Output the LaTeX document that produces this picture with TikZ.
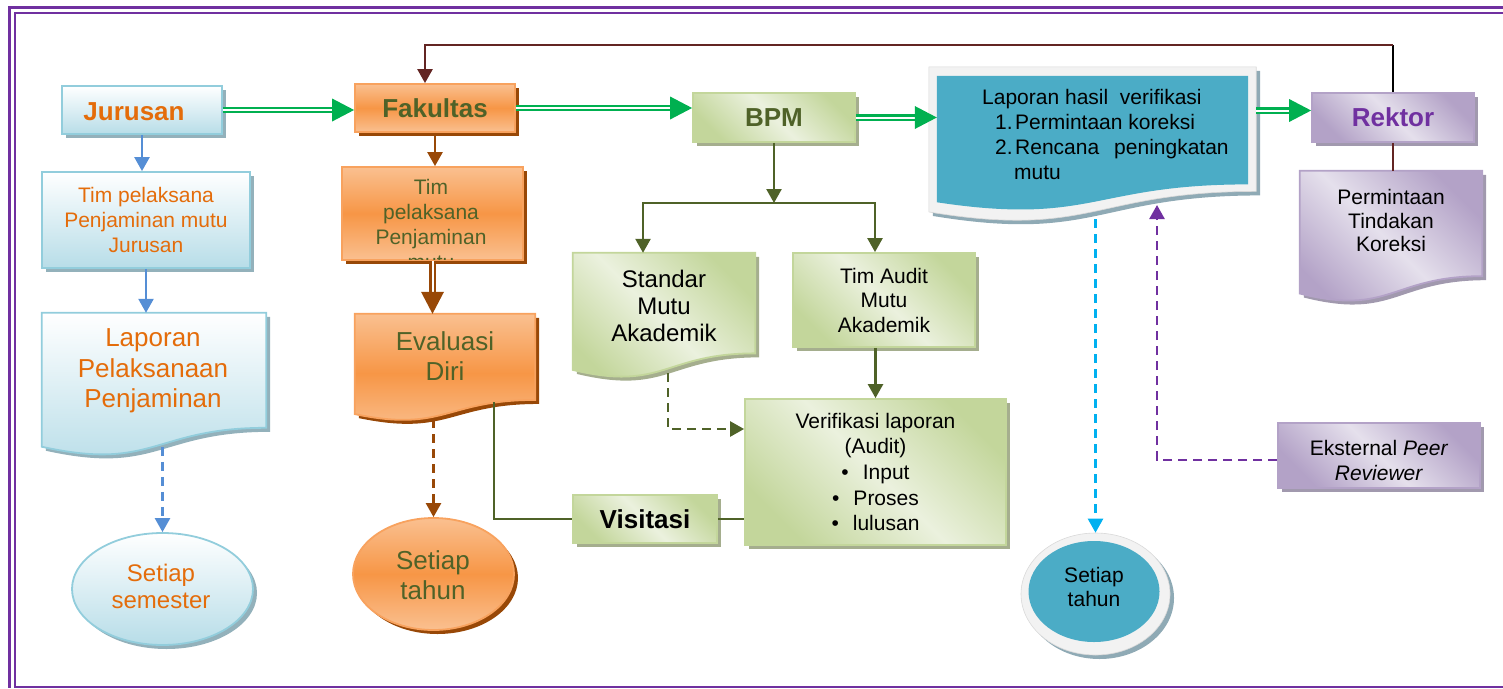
\documentclass[tikz,border=0pt]{standalone}
\usepackage{fontspec}
\setmainfont{Liberation Sans}
\usetikzlibrary{arrows.meta,calc,shadows,decorations.markings,shapes.geometric}
\definecolor{bB}{HTML}{92CDDC}
\definecolor{bL}{HTML}{B7DDE8}
\definecolor{bS}{HTML}{93B1BB}
\definecolor{oB}{HTML}{F8A25E}
\definecolor{oM}{HTML}{F79646}
\definecolor{oL}{HTML}{FAC090}
\definecolor{oS}{HTML}{984807}
\definecolor{gB}{HTML}{C3D69B}
\definecolor{gD}{HTML}{C3D69B}
\definecolor{gW}{HTML}{EBF1DE}
\definecolor{gS}{HTML}{A5AE8E}
\definecolor{pB}{HTML}{B3A2C7}
\definecolor{pD}{HTML}{B3A2C7}
\definecolor{pW}{HTML}{E5E0EC}
\definecolor{pS}{HTML}{A199AE}
\definecolor{tealF}{HTML}{4BACC6}
\definecolor{frameG}{HTML}{F2F2F2}
\definecolor{frameB}{HTML}{D9D9D9}
\definecolor{tS}{HTML}{8FAAB5}
\definecolor{gA}{HTML}{00B050}
\definecolor{brA}{HTML}{984807}
\definecolor{olA}{HTML}{4F6228}
\definecolor{bA}{HTML}{558ED5}
\definecolor{cA}{HTML}{00B0F0}
\definecolor{pA}{HTML}{7030A0}
\definecolor{dR}{HTML}{632523}
\definecolor{oT}{HTML}{E46C0A}
\definecolor{dG}{HTML}{4F6228}
\definecolor{fr}{HTML}{7030A0}
\newcommand\fsN{\fontsize{21pt}{25pt}\selectfont}
\newcommand\fsL{\fontsize{26pt}{30.5pt}\selectfont}
\newcommand\fsM{\fontsize{24pt}{27pt}\selectfont}
\newcommand\docpath[1]{(#1.north west) -- (#1.north east) -- ($(#1.north east)!0.802!(#1.south east)$) .. controls ($(#1.north)!0.802!(#1.south)$) and ($(#1.north)!1.1075!(#1.south)$) .. ($(#1.north west)!0.934!(#1.south west)$) -- cycle}
\begin{document}
\begin{tikzpicture}[x=1pt,y=-1pt,
  shd/.style={general shadow={fill=#1, shadow xshift=4pt, shadow yshift=-4pt}},
  box/.style={rectangle, inner sep=0pt, align=center, font=\fsN},
  holder/.style={rectangle, inner sep=0pt},
  txt/.style={inner sep=0pt, align=center, font=\fsN},
  bluefill/.style={draw=bB, line width=1.8pt, top color=white, bottom color=bL, shd=bS},
  orangefill/.style={draw=oB, line width=1.8pt, top color=oL, bottom color=oL, middle color=oM, shd=oS},
  greenfill/.style={draw=gB, line width=1.8pt, top color=gD, bottom color=gD, middle color=gW, shading angle=-45, shd=gS},
  purplefill/.style={draw=pB, line width=1.8pt, top color=pD, bottom color=pD, middle color=pW, shading angle=-45, shd=pS},
  arr/.style={draw=#1, line width=2.5pt, -{Triangle[length=14pt,width=15pt]}},
  plainline/.style={draw=#1, line width=2.5pt},
  dsh/.style={dash pattern=on 9pt off 6pt},
  dbl/.style={draw=#1, line width=2.1pt, double=white, double distance=2pt, shorten >=18pt,
    postaction={decorate, decoration={markings, mark=at position 1 with {\fill[#1] (0pt,0pt) -- (-22pt,11.5pt) -- (-22pt,-11.5pt) -- cycle;}}}}
]
\useasboundingbox (0,0) rectangle (1503,688);
% frame
\draw[fr, line width=3pt] (1503,7) -- (9,7) -- (9,688);
\draw[fr, line width=2.2pt] (1503,13) -- (15,13) -- (15,687) -- (1503,687);

% ---------- blue column
\node[box, bluefill, minimum width=160pt, minimum height=48pt] (jur) at (142,110) {};
\node[txt, font=\fsL\bfseries, text=oT] (jur-t) at (134,112) {Jurusan};
\node[box, bluefill, minimum width=208pt, minimum height=96pt, text=oT] (timJ) at (146,220) {Tim pelaksana\\Penjaminan mutu\\Jurusan};
\node[holder, minimum width=224pt, minimum height=143pt] (lapP) at (154,384.5) {};
\path[bluefill] \docpath{lapP};
\node[txt, font=\fsL, text=oT] (lapP-t) at (153,371) {Laporan\\Pelaksanaan\\Penjaminan};
\node[ellipse, inner sep=0pt, bluefill, minimum width=181pt, minimum height=112pt] (ss) at (162.5,589) {};
\node[txt, font=\fsM, text=oT] (ss-t) at (161,586) {Setiap\\semester};

% ---------- orange column
\node[box, orangefill, minimum width=160pt, minimum height=48pt, font=\fsL\bfseries, text=dG] (fak) at (435,108) {Fakultas};
\node[box, orangefill, minimum width=181pt, minimum height=93pt] (timF) at (432.5,213.5) {};
\begin{scope}
\clip (timF.north west) rectangle ([yshift=1.5pt]timF.south east);
\node[txt, text=dG] (timF-t) at (431,224) {Tim\\pelaksana\\Penjaminan\\mutu};
\end{scope}
\node[holder, minimum width=180pt, minimum height=107pt] (eval) at (445,367.5) {};
\path[orangefill] \docpath{eval};
\node[txt, font=\fsL, text=dG] (eval-t) at (445,356) {Evaluasi\\Diri};
\node[ellipse, inner sep=0pt, orangefill, minimum width=161pt, minimum height=112pt] (st2) at (433.5,574) {};
\node[txt, font=\fsL, text=dG] (st2-t) at (433,575) {Setiap\\tahun};

% ---------- green column
\node[box, greenfill, minimum width=162pt, minimum height=49pt, font=\fsL\bfseries, text=dG] (bpm) at (774,117.5) {BPM};
\node[holder, minimum width=182pt, minimum height=125pt] (std) at (664,315.5) {};
\path[greenfill] \docpath{std};
\node[txt, font=\fsM] (std-t) at (664,306) {Standar\\Mutu\\Akademik};
\node[box, greenfill, minimum width=182pt, minimum height=94pt, font={\fontsize{21pt}{24.5pt}\selectfont}] (ta) at (884,300) {Tim Audit\\Mutu\\Akademik};
\node[box, greenfill, minimum width=261pt, minimum height=146pt, font={\fontsize{21pt}{25.7pt}\selectfont}] (ver) at (875.5,472) {Verifikasi laporan\\(Audit)\\\textbullet\hspace{14pt}Input\\\textbullet\hspace{14pt}Proses\\\textbullet\hspace{14pt}lulusan};
\node[box, greenfill, minimum width=144pt, minimum height=48pt, font=\fsL\bfseries] (vis) at (645,519) {Visitasi};

% ---------- teal report
\node[holder, minimum width=327pt, minimum height=155pt] (lapF) at (1092.5,144.5) {};
\path[fill=frameG, draw=frameB, line width=0.6pt, shd=tS] \docpath{lapF};
\node[holder, minimum width=311pt, minimum height=135pt] (lapH) at (1092.5,143.5) {};
\path[fill=tealF] \docpath{lapH};
\node[txt, align=left, anchor=north west] (lapH-t) at (982,89) {Laporan hasil\ \ verifikasi\\
\hspace*{13pt}\makebox[20pt][l]{1.}Permintaan koreksi\\
\hspace*{13pt}\makebox[20pt][l]{2.}Rencana\hspace{15pt}peningkatan\\
\hspace*{32pt}mutu};
\node[ellipse, inner sep=0pt, fill=frameG, draw=frameB, line width=0.6pt, shd=tS, minimum width=149pt, minimum height=122pt] (st3) at (1095.5,594) {};
\node[ellipse, inner sep=0pt, fill=tealF, minimum width=131pt, minimum height=101pt] (st3i) at (1094,591.5) {};
\node[txt, font={\fontsize{21pt}{24pt}\selectfont}] (st3-t) at (1094,587) {Setiap\\tahun};

% ---------- purple
\node[box, purplefill, minimum width=162pt, minimum height=49pt, font=\fsL\bfseries, text=pA] (rek) at (1393,117.5) {Rektor};
\node[holder, minimum width=182pt, minimum height=131pt] (perm) at (1391,236.5) {};
\path[purplefill] \docpath{perm};
\node[txt, font={\fontsize{21pt}{23.5pt}\selectfont}] (perm-t) at (1391,220.5) {Permintaan\\Tindakan\\Koreksi};
\node[box, purplefill, minimum width=202pt, minimum height=65pt] (ext) at (1379,455.5) {};
\node[txt] (ext-t) at (1379,460.5) {Eksternal \textit{Peer}\\\textit{Reviewer}};

% ---------- connectors
\coordinate (r1) at ([yshift=7pt]rek.west);
\draw[dbl=gA] (jur.east) -- (jur.east -| fak.west);
\draw[dbl=gA] (fak.east) -- (fak.east -| bpm.west);
\draw[dbl=gA] (bpm.east) -- (bpm.east -| lapH.west);
\draw[dbl=gA] (r1 -| lapF.east) -- (r1);

\coordinate (topy) at (0,45);
\coordinate (fin) at ([xshift=-10pt]fak.north);
\draw[plainline=black] (rek.north) -- (rek.north |- topy);
\draw[arr=dR] (rek.north |- topy) -- (fin |- topy) -- (fin);
\draw[plainline=dR] (rek.south) -- (rek.south |- perm.north);

\draw[arr=bA] (jur.south) -- (jur.south |- timJ.north);
\draw[arr=bA] (timJ.south) -- (timJ.south |- lapP.north);
\coordinate (lapPb) at ($(lapP.north)!0.935!(lapP.south)$);
\draw[arr=bA, dsh] (lapPb -| ss.north) -- (ss.north);

\draw[arr=brA] (fak.south) -- (fak.south |- timF.north);
\draw[dbl=brA] (timF.south) -- (timF.south |- eval.north);
\coordinate (evb) at ($(eval.north)!0.98!(eval.south)$);
\draw[arr=brA, dsh] (evb -| st2.north) -- (st2.north);

\coordinate (evr) at (494,402);
\draw[plainline=olA] (evr) |- (vis.west);
\draw[plainline=olA] (vis.east) -- (vis.east -| ver.west);
\coordinate (sL) at (643,203);
\coordinate (sR) at (875,203);
\draw[arr=olA] (bpm.south) -- (bpm.south |- sL);
\draw[arr=olA] (bpm.south |- sL) -- (sL) -- (sL |- std.north);
\draw[arr=olA] (bpm.south |- sL) -- (sR) -- (sR |- ta.north);
\draw[arr=olA] (ta.south -| ver.north) -- (ver.north);
\coordinate (stdb) at (668,373);
\coordinate (vin) at ([yshift=43pt]ver.west);
\draw[arr=olA, dsh] (stdb) |- (vin);

\coordinate (lhb) at (1095.5,219);
\draw[arr=cA, dsh] (lhb) -- (st3.north);
\coordinate (pup) at (1157,205);
\draw[arr=pA, dsh] ([yshift=-4.5pt]ext.west) -| (pup);
\end{tikzpicture}
\end{document}
